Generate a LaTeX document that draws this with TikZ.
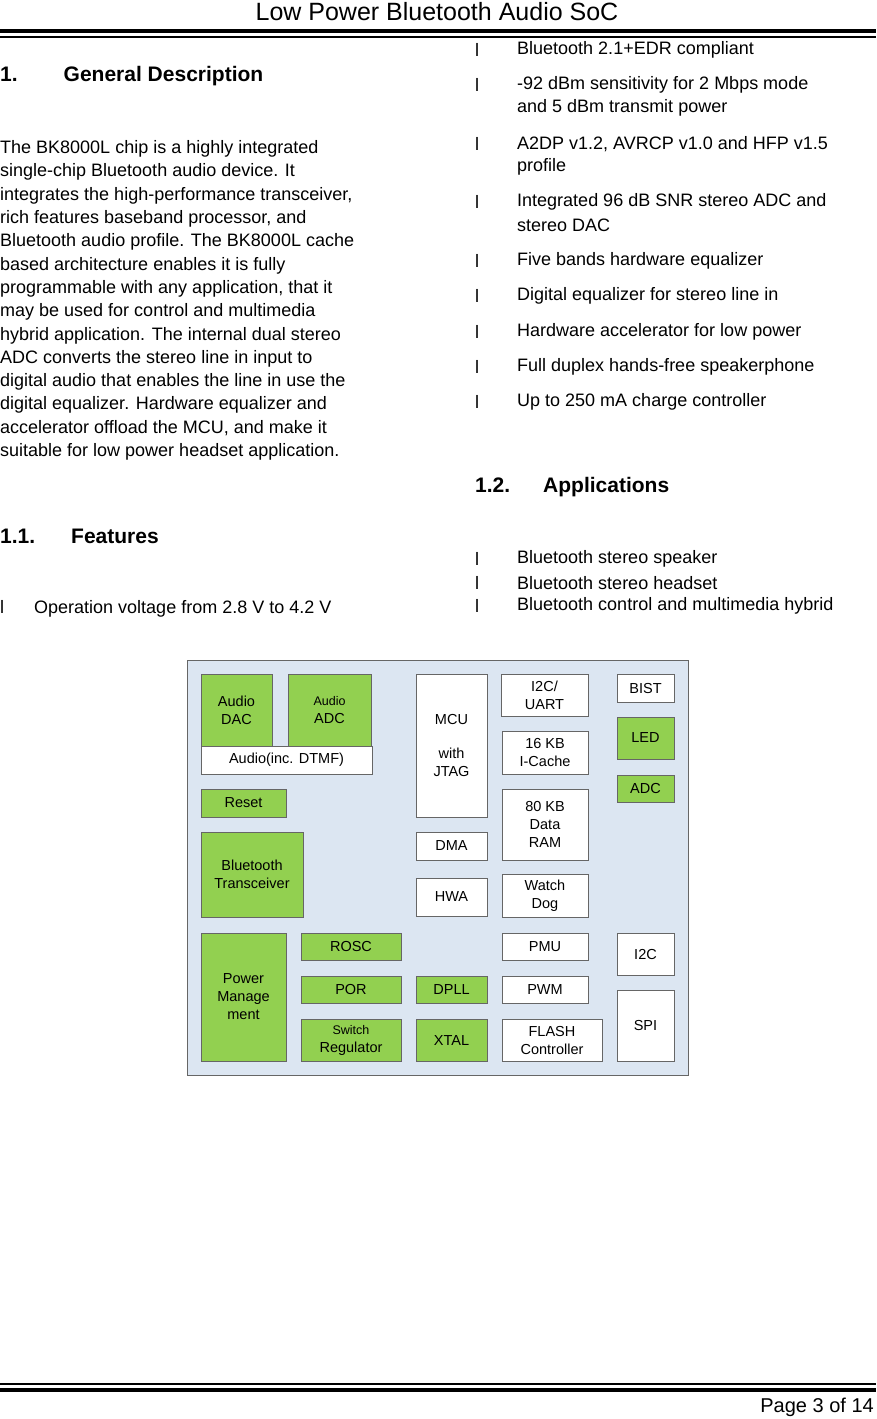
\documentclass[tikz,border=0pt]{standalone}
\usepackage{fontspec}
\setmainfont{Liberation Sans}
\definecolor{grn}{RGB}{146,208,80}
\definecolor{bg}{RGB}{220,230,242}
\begin{document}
\begin{tikzpicture}[x=1pt,y=-1pt,
 txt/.style={anchor=west,inner sep=0,font=\fontsize{18}{22}\selectfont},
 hd/.style={anchor=west,inner sep=0,font=\fontsize{21}{24}\selectfont\bfseries},
 bx/.style={draw=black!60,line width=0.8,font=\fontsize{14.5}{18}\selectfont,align=center},
 g/.style={fill=grn},
 w/.style={fill=white}]
\useasboundingbox (0,0) rectangle (876,1419);
\node[inner sep=0,font=\fontsize{25}{28}\selectfont] (title) at (437,12) {Low Power Bluetooth Audio SoC};
\draw[line width=4] (0,31)--(876,31);
\draw[line width=1.2] (0,37)--(876,37);
\draw[line width=1.2] (0,1384)--(876,1384);
\draw[line width=4] (0,1390)--(876,1390);
\node[anchor=east,inner sep=0,font=\fontsize{20}{24}\selectfont] (pg) at (874,1407) {Page 3 of 14};
% left column
\node[hd] (h1) at (0,76) {1.\hspace{46pt}General Description};
\foreach \t [count=\i from 0] in {The BK8000L chip is a highly integrated,single-chip Bluetooth audio device. It,{integrates the high-performance transceiver,},{rich features baseband processor, and},Bluetooth audio profile. The BK8000L cache,based architecture enables it is fully,{programmable with any application, that it},may be used for control and multimedia,hybrid application. The internal dual stereo,ADC converts the stereo line in input to,digital audio that enables the line in use the,digital equalizer. Hardware equalizer and,{accelerator offload the MCU, and make it},suitable for low power headset application.}
  \node[txt] at (0,149+23.3*\i) {\t};
\node[hd] (h11) at (0,536) {1.1.\hspace{36pt}Features};
\node[txt] at (0,609) {l\hspace{30pt}Operation voltage from 2.8 V to 4.2 V};
% right column
\foreach \y/\t in {50/Bluetooth 2.1+EDR compliant,85/-92 dBm sensitivity for 2 Mbps mode,144/{A2DP v1.2, AVRCP v1.0 and HFP v1.5},202/Integrated 96 dB SNR stereo ADC and,261/Five bands hardware equalizer,296/Digital equalizer for stereo line in,332/Hardware accelerator for low power,367/Full duplex hands-free speakerphone,402/Up to 250 mA charge controller,559/Bluetooth stereo speaker,583/Bluetooth stereo headset,606/Bluetooth control and multimedia hybrid}
  {\node[txt] at (475,\y) {l}; \node[txt] at (517,\y) {\t};}
\foreach \y/\t in {108/and 5 dBm transmit power,167/profile,225/stereo DAC}
  \node[txt] at (517,\y) {\t};
\node[hd] (h12) at (475,487) {1.2.\hspace{33pt}Applications};
% diagram
\draw[draw=black!60,line width=0.8,fill=bg] (187,660) rectangle (688,1075);
\foreach \n/\a/\b/\c/\d/\s/\t in {
 dac/201/674/272/746/g/{Audio\\DAC},
 adc/288/674/371/746/g/{\fontsize{12.5}{16}\selectfont Audio\\ADC},
 dtmf/201/746/372/774/w/{Audio(inc. DTMF)},
 reset/201/789/286/817/g/Reset,
 bt/201/832/303/917/g/{Bluetooth\\Transceiver},
 pm/201/933/286/1061/g/{Power\\Manage\\ment},
 rosc/301/933/401/960/g/ROSC,
 por/301/976/401/1003/g/POR,
 sw/301/1019/401/1061/g/{\fontsize{12.5}{16}\selectfont Switch\\Regulator},
 mcu/416/674/487/817/w/{MCU\\[1.1em]with\\JTAG},
 dma/416/832/487/860/w/DMA,
 hwa/416/878/487/916/w/HWA,
 dpll/416/976/487/1003/g/DPLL,
 xtal/416/1019/487/1061/g/XTAL,
 uart/501/674/588/716/w/{I2C/\\UART},
 ic/502/731/588/774/w/{16 KB\\I-Cache},
 ram/502/789/588/860/w/{80 KB\\Data\\RAM},
 wd/502/874/588/917/w/{Watch\\Dog},
 pmu/502/933/588/960/w/PMU,
 pwm/502/976/588/1003/w/PWM,
 fl/502/1019/602/1061/w/{FLASH\\Controller},
 bist/617/674/674/702/w/BIST,
 led/617/717/674/759/g/LED,
 adc2/617/775/674/802/g/ADC,
 iic/617/933/674/975/w/I2C,
 spi/617/990/674/1061/w/SPI}
 \node[bx,\s,minimum width=\c-\a,minimum height=\d-\b,inner sep=0] (\n) at ({(\a+\c)/2},{(\b+\d)/2}) {\t};
\end{tikzpicture}
\end{document}
